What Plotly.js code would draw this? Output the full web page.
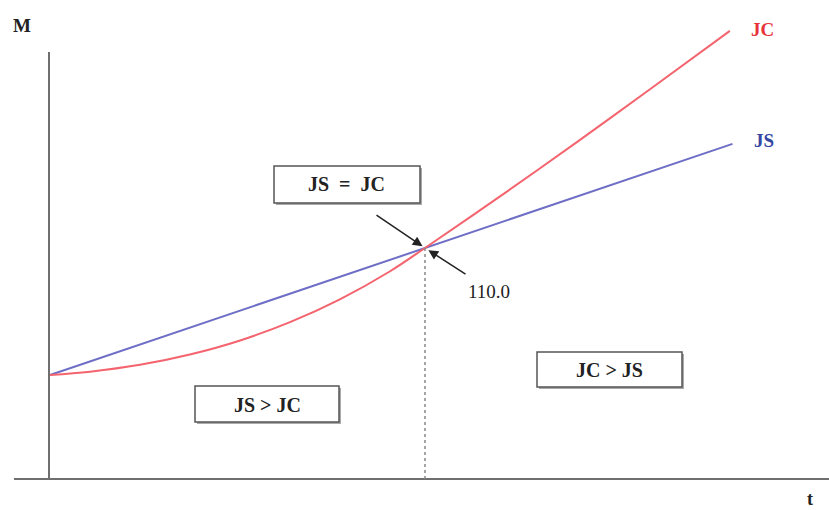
<!DOCTYPE html>
<html>
<head>
<meta charset="utf-8">
<script src="https://cdn.plot.ly/plotly-3.0.1.min.js"></script>
<style>
  html, body { margin: 0; padding: 0; background: #fff; }
  #plot { width: 829px; height: 510px; }
</style>
</head>
<body>
<div id="plot"></div>
<script>
// --- データ ---
const tJS = [0, 1, 1.82];
const mJS = [100, 110, 118.2];

const tJC = [0, 0.107, 0.24, 0.373, 0.507, 0.64, 0.773, 0.907, 1, 1.2, 1.405, 1.6, 1.813];
const mJC = [100, 100.26, 100.8, 101.61, 102.72, 104.16, 105.96, 108.17, 110, 114.06, 118.34, 122.5, 127.1];

const meetT = 1;
const meetM = 110;
const meetLabel = '110.0';

// --- 座標変換 (ピクセル -> paper) ---
const W = 829, H = 510;
const px = (x) => x / W;
const py = (y) => 1 - y / H;

const serif = 'Liberation Serif, Times New Roman, serif';
const ink = '#222';

const traces = [
    { x: tJS, y: mJS, type: 'scatter', mode: 'lines', line: { color: '#6e6ec6', width: 2 }, hoverinfo: 'skip' },
    { x: tJC, y: mJC, type: 'scatter', mode: 'lines', line: { color: '#f4646e', width: 2, shape: 'spline' }, hoverinfo: 'skip' }
];

// --- 枠付きラベル ---
function box(x0, y0, x1, y1) {
    return [
        { type: 'rect', xref: 'paper', yref: 'paper', x0: px(x0 + 2), x1: px(x1 + 2), y0: py(y1 + 2), y1: py(y0 + 2),
          fillcolor: '#aaa', line: { width: 0 }, layer: 'above' },
        { type: 'rect', xref: 'paper', yref: 'paper', x0: px(x0), x1: px(x1), y0: py(y1), y1: py(y0),
          fillcolor: '#fff', line: { color: '#555', width: 1.5 }, layer: 'above' }
    ];
}

const shapes = [
    // 軸
    { type: 'line', xref: 'paper', yref: 'paper', x0: px(14), x1: 1, y0: py(479), y1: py(479), line: { color: '#6f6f6f', width: 2 } },
    { type: 'line', xref: 'paper', yref: 'paper', x0: px(49), x1: px(49), y0: py(479), y1: py(52), line: { color: '#6f6f6f', width: 2 } },
    // 交点からの点線
    { type: 'line', xref: 'x', yref: 'y', x0: meetT, x1: meetT, y0: meetM, y1: 91.57, line: { color: '#888', width: 1.5, dash: 'dot' } },
    ...box(274, 166, 420, 203),
    ...box(195, 386, 339, 422),
    ...box(537, 352, 682, 387)
];

function label(text, x, y, opts = {}) {
    return Object.assign({
        text: text, xref: 'paper', yref: 'paper', x: px(x), y: py(y),
        xanchor: 'center', yanchor: 'middle', showarrow: false,
        font: { family: serif, size: 20, color: ink }
    }, opts);
}

const annotations = [
    label('<b>M</b>', 22, 25, { font: { family: serif, size: 19, color: ink } }),
    label('<b>t</b>', 810, 499, { font: { family: serif, size: 18, color: ink } }),
    label('<b>JC</b>', 762, 29, { font: { family: serif, size: 19, color: '#e8333a' } }),
    label('<b>JS</b>', 764, 140, { font: { family: serif, size: 19, color: '#3547a2' } }),
    label('<b>JS&nbsp;&nbsp;=&nbsp;&nbsp;JC</b>', 346, 184),
    label('<b>JS &gt; JC</b>', 267, 405),
    label('<b>JC &gt; JS</b>', 609, 370),
    label(meetLabel, 489, 291, { font: { family: serif, size: 19, color: ink } }),
    // 矢印
    { text: '', xref: 'x', yref: 'y', x: meetT, y: meetM, ax: -50, ay: -34, showarrow: true,
      arrowhead: 2, arrowsize: 1.3, arrowwidth: 1.5, arrowcolor: ink, standoff: 3 },
    { text: '', xref: 'x', yref: 'y', x: meetT, y: meetM, ax: 42, ay: 27, showarrow: true,
      arrowhead: 2, arrowsize: 1.3, arrowwidth: 1.5, arrowcolor: ink, standoff: 4 }
];

const layout = {
    width: W, height: H,
    margin: { l: 0, r: 0, t: 0, b: 0 },
    paper_bgcolor: '#fff', plot_bgcolor: '#fff',
    showlegend: false,
    xaxis: { range: [-50 / 375, 779 / 375], visible: false, fixedrange: true },
    yaxis: { range: [100 - 135 / 12.7, 100 + 375 / 12.7], visible: false, fixedrange: true },
    shapes: shapes,
    annotations: annotations
};

Plotly.newPlot('plot', traces, layout, { displayModeBar: false, staticPlot: true });
</script>
</body>
</html>
